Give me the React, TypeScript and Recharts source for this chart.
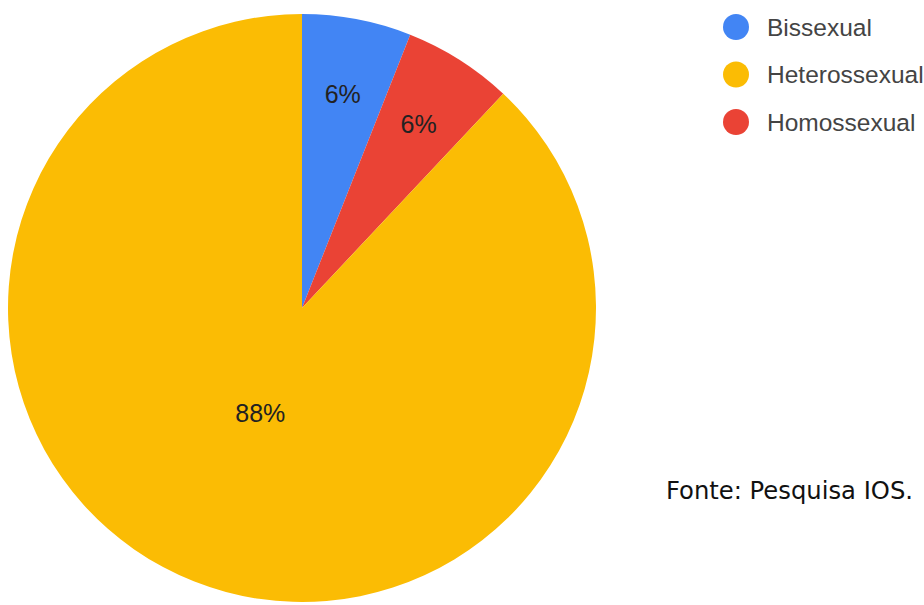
import { PieChart, Pie, Cell } from 'recharts';

const names = ['Bissexual', 'Homossexual', 'Heterossexual'];
const values = [6, 6, 88];
const colors = ['#4285F4', '#EA4335', '#FBBC04'];

const legendNames = ['Bissexual', 'Heterossexual', 'Homossexual'];
const legendColors = ['#4285F4', '#FBBC04', '#EA4335'];

const sourceText = 'Fonte: Pesquisa IOS.';

const data = names.map((name, i) => ({ name, value: values[i] }));

const RADIAN = Math.PI / 180;

const renderLabel = (props: any) => {
  const { cx, cy, midAngle, outerRadius, percent, value } = props;
  const r = outerRadius * (percent > 0.5 ? 0.385 : 0.74);
  const x = cx + r * Math.cos(-midAngle * RADIAN);
  const y = cy + r * Math.sin(-midAngle * RADIAN);
  return (
    <text
      x={x}
      y={y}
      fill="#222"
      fontSize={25}
      fontFamily="Liberation Sans, Arial, sans-serif"
      textAnchor="middle"
      dominantBaseline="central"
    >
      {value}%
    </text>
  );
};

const App = () => {
  return (
    <div style={{ position: 'absolute', left: 0, top: 0, width: 924, height: 605, background: '#fff' }}>
      <PieChart width={924} height={605} margin={{ top: 0, right: 0, bottom: 0, left: 0 }}>
        <Pie
          data={data}
          dataKey="value"
          nameKey="name"
          cx={302}
          cy={308}
          outerRadius={294}
          startAngle={90}
          endAngle={-270}
          stroke="none"
          label={renderLabel}
          labelLine={false}
          isAnimationActive={false}
        >
          {data.map((d, i) => (
            <Cell key={d.name} fill={colors[i]} />
          ))}
        </Pie>
      </PieChart>
      <svg width={924} height={605} style={{ position: 'absolute', left: 0, top: 0, pointerEvents: 'none' }}>
        {legendNames.map((name, i) => (
          <g key={name}>
            <circle cx={736} cy={27 + i * 47.5} r={13} fill={legendColors[i]} />
            <text
              x={767}
              y={27 + i * 47.5}
              fill="#444"
              fontSize={24.5}
              fontFamily="Liberation Sans, Arial, sans-serif"
              dominantBaseline="central"
            >
              {name}
            </text>
          </g>
        ))}
        <text
          x={666}
          y={491}
          fill="#111"
          fontSize={24}
          fontFamily="DejaVu Sans, sans-serif"
          dominantBaseline="central"
          textLength={247}
          lengthAdjust="spacingAndGlyphs"
        >
          {sourceText}
        </text>
      </svg>
    </div>
  );
};

export default App;
